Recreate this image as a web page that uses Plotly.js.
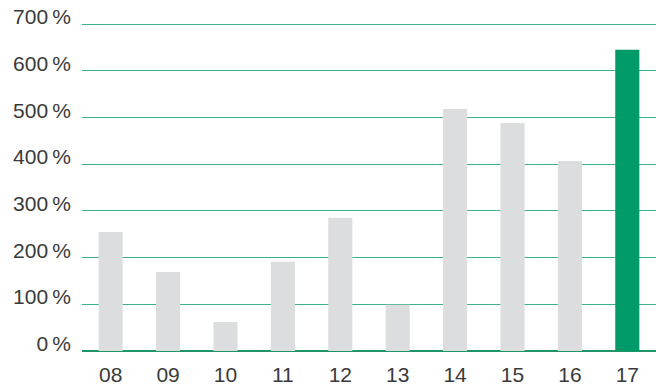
<!DOCTYPE html>
<html>
<head>
<meta charset="utf-8">
<script src="https://cdn.plot.ly/plotly-3.0.1.min.js"></script>
<style>html,body{margin:0;padding:0;background:#fff;}#chart{width:656px;height:388px;}</style>
</head>
<body>
<div id="chart"></div>
<script>
const years = ["08","09","10","11","12","13","14","15","16","17"];
const values = [255, 169, 62, 191, 285, 99, 518, 488, 407, 645];
const barColors = ["#dcdddf","#dcdddf","#dcdddf","#dcdddf","#dcdddf","#dcdddf","#dcdddf","#dcdddf","#dcdddf","#009b69"];
const yTickVals = [0, 100, 200, 300, 400, 500, 600, 700];
const yTickText = ["0\u2009%","100\u2009%","200\u2009%","300\u2009%","400\u2009%","500\u2009%","600\u2009%","700\u2009%"];

const font = {family: "Liberation Sans, Arial, sans-serif", size: 21, color: "#3a3a3a"};
const yMax = 730;
// label axis shifted so labels sit just above their gridlines
const shift = 15.5;

Plotly.newPlot("chart", [{
  type: "bar",
  x: years,
  y: values,
  marker: {color: barColors, line: {width: 0}},
  hoverinfo: "none"
}, {
  type: "scatter",
  mode: "markers",
  x: years,
  y: values,
  yaxis: "y2",
  marker: {opacity: 0, size: 1},
  hoverinfo: "none"
}], {
  width: 656, height: 388,
  margin: {l: 82, r: 0, t: 10, b: 37, pad: 0},
  paper_bgcolor: "#ffffff", plot_bgcolor: "#ffffff",
  bargap: 0.58,
  showlegend: false,
  font: font,
  xaxis: {
    type: "category",
    range: [-0.5, 9.5],
    showgrid: false, zeroline: false, showline: false,
    ticks: "outside", ticklen: 5, tickcolor: "rgba(0,0,0,0)",
    tickfont: font, fixedrange: true
  },
  yaxis: {
    range: [0, yMax],
    tickvals: yTickVals,
    showticklabels: false,
    showgrid: true, gridcolor: "#3fb187", gridwidth: 1,
    zeroline: true, zerolinecolor: "#1f9468", zerolinewidth: 1.5,
    showline: false, ticks: "", fixedrange: true
  },
  yaxis2: {
    overlaying: "y", side: "left", anchor: "x",
    range: [-shift, yMax - shift],
    tickvals: yTickVals, ticktext: yTickText,
    showgrid: false, zeroline: false, showline: false,
    ticks: "", ticklabelstandoff: 10,
    tickfont: font, fixedrange: true
  }
}, {staticPlot: true, displayModeBar: false});
</script>
</body>
</html>
